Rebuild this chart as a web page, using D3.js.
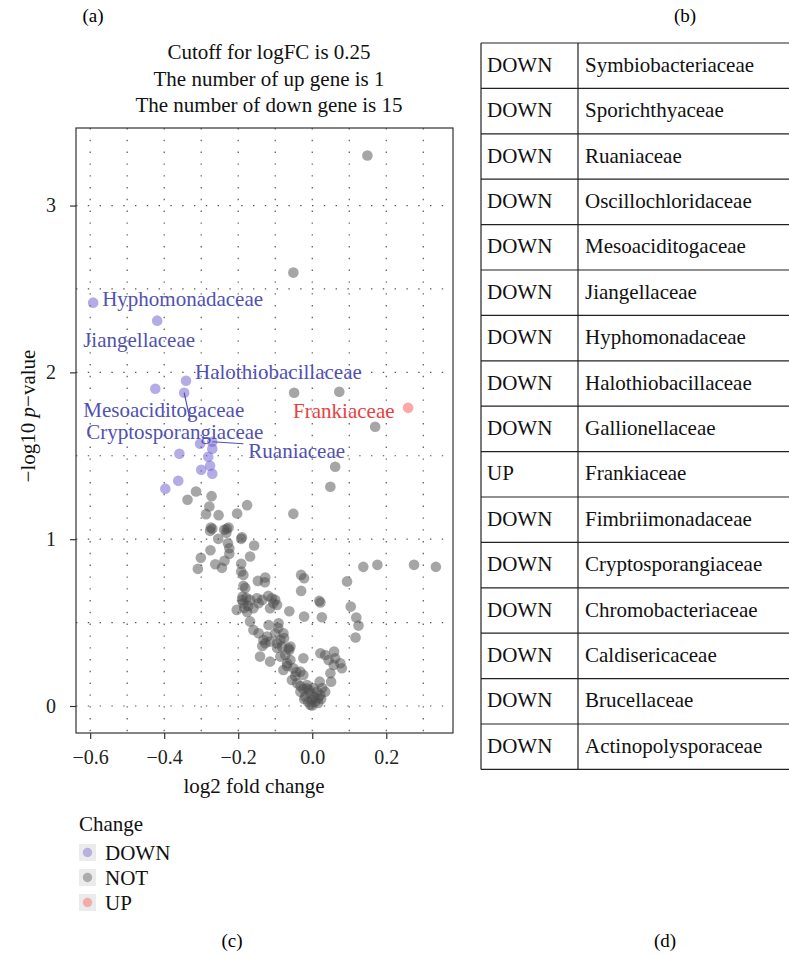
<!DOCTYPE html>
<html><head><meta charset="utf-8">
<script src="https://cdn.jsdelivr.net/npm/d3@7"></script>
<style>body{margin:0;background:#fff}svg{display:block}text{font-family:"Liberation Serif","Times New Roman",serif}</style>
</head><body><svg id="c" width="789" height="955"></svg>
<script>
// ---------------- data ----------------
const titleLines = ["Cutoff for logFC is 0.25", "The number of up gene is 1", "The number of down gene is 15"];
const changeLevels = ["DOWN", "NOT", "UP"];
const xTicks = [-0.6, -0.4, -0.2, 0.0, 0.2];
const yTicks = [0, 1, 2, 3];

// [log2 fold change, -log10 p-value]
const notPoints = [
[0.149,3.30],[-0.051,2.598],[-0.049,1.878],[0.073,1.884],[0.170,1.674],[0.062,1.434],[0.049,1.314],[-0.051,1.152],
[-0.314,1.286],[-0.337,1.236],[-0.272,1.258],[-0.278,1.196],[-0.287,1.150],[-0.253,1.144],[-0.176,1.204],[-0.203,1.154],
[-0.274,1.070],[-0.276,1.050],[-0.231,1.062],[-0.226,1.070],[-0.238,1.056],[-0.254,1.002],[-0.192,1.002],[-0.190,1.012],
[-0.228,0.976],[-0.224,0.946],[-0.224,0.912],[-0.157,0.962],[-0.275,0.934],[-0.301,0.888],[-0.309,0.822],[-0.262,0.850],
[-0.237,0.870],[-0.244,0.828],[-0.168,0.896],[-0.192,0.852],[-0.192,0.806],[-0.186,0.786],[-0.147,0.750],[-0.127,0.770],
[-0.128,0.742],[-0.030,0.786],[-0.022,0.766],[-0.030,0.690],[0.094,0.747],[0.138,0.834],[0.176,0.846],[0.275,0.846],
[0.334,0.834],[-0.186,0.720],[-0.188,0.656],[-0.190,0.636],[-0.186,0.616],[-0.204,0.576],[-0.176,0.564],[-0.149,0.646],
[-0.145,0.616],[-0.159,0.586],[-0.109,0.646],[-0.105,0.616],[-0.114,0.586],[-0.095,0.606],[-0.062,0.568],[-0.022,0.536],
[0.022,0.620],[0.019,0.630],[0.026,0.532],[0.104,0.596],[0.119,0.530],[0.125,0.482],[0.117,0.411],[-0.168,0.507],
[-0.159,0.456],[-0.145,0.436],[-0.118,0.486],[-0.091,0.496],[-0.100,0.436],[-0.078,0.436],[-0.132,0.396],[-0.114,0.386],
[-0.095,0.376],[-0.082,0.356],[-0.059,0.356],[-0.122,0.416],[-0.127,0.376],[-0.064,0.346],[-0.141,0.296],[-0.114,0.266],
[-0.086,0.296],[-0.059,0.276],[-0.068,0.256],[-0.078,0.216],[-0.051,0.226],[-0.024,0.286],[0.022,0.316],[0.035,0.306],
[0.059,0.326],[0.044,0.276],[0.062,0.286],[0.076,0.256],[0.080,0.226],[0.058,0.246],[0.049,0.196],[0.051,0.146],
[0.020,0.146],[-0.032,0.206],[-0.024,0.186],[-0.055,0.156],[-0.041,0.136],[-0.014,0.126],[0.004,0.106],[-0.032,0.086],
[-0.005,0.076],[0.035,0.086],[-0.019,0.056],[-0.001,0.036],[0.008,0.026],[-0.005,0.006],[0.022,0.066],[-0.014,0.106],
[0.013,0.086],[0.000,0.003],[0.016,0.048],[-0.011,0.024],[-0.024,0.102],[0.027,0.108],[-0.032,0.120],[-0.046,0.180],
[-0.062,0.336],[-0.095,0.348],[-0.135,0.360],[-0.181,0.708],[-0.178,0.648],[-0.173,0.600],[-0.135,0.636],[-0.119,0.660],
[-0.076,0.408],[-0.092,0.468],[-0.168,0.636],[-0.184,0.588],[-0.100,0.636],[-0.086,0.396],[-0.073,0.306],[0.005,0.054],
[-0.008,0.096],[0.016,0.018],[-0.022,0.042],[0.024,0.042],[-0.068,0.240],[-0.043,0.204],[-0.232,1.038],[-0.270,1.062]
];
const downPoints = [
[-0.592,2.418],[-0.419,2.310],[-0.424,1.902],[-0.341,1.950],[-0.346,1.878],[-0.303,1.572],[-0.270,1.584],[-0.270,1.542],
[-0.359,1.512],[-0.281,1.494],[-0.276,1.440],[-0.300,1.416],[-0.270,1.392],[-0.362,1.350],[-0.397,1.302]
];
const downLabels = ["Hyphomonadaceae","Jiangellaceae","Mesoaciditogaceae","Halothiobacillaceae","Cryptosporangiaceae",null,"Ruaniaceae",null,null,null,null,null,null,null,null];
const upPoints = [[0.259,1.788]];
const upLabels = ["Frankiaceae"];

const tableChange = ["DOWN","DOWN","DOWN","DOWN","DOWN","DOWN","DOWN","DOWN","DOWN","UP","DOWN","DOWN","DOWN","DOWN","DOWN","DOWN"];
const tableFamily = ["Symbiobacteriaceae","Sporichthyaceae","Ruaniaceae","Oscillochloridaceae","Mesoaciditogaceae","Jiangellaceae","Hyphomonadaceae","Halothiobacillaceae","Gallionellaceae","Frankiaceae","Fimbriimonadaceae","Cryptosporangiaceae","Chromobacteriaceae","Caldisericaceae","Brucellaceae","Actinopolysporaceae"];

// label placement (pixel offsets from the point, as a repel layout would give)
const labelLayout = {
  Hyphomonadaceae:[9,-4], Jiangellaceae:[-74,19], Halothiobacillaceae:[9,-9],
  Mesoaciditogaceae:[-72,21], Cryptosporangiaceae:[-98,39,6,28], Ruaniaceae:[36,9,31,2], Frankiaceae:[-115,3]
};

// ---------------- drawing ----------------
const svg = d3.select("#c");
const FS = 21;
const colors = {DOWN:"#6a5acd", NOT:"#4d4d4d", UP:"#ff4d4d"};
const labelColors = {DOWN:"#5151b3", UP:"#e8413e"};
const ptAlpha = 0.5;

const P = {l:76, r:453, t:128, b:733};
const all = notPoints.concat(downPoints, upPoints);
const xe = d3.extent(all, d=>d[0]), ye = d3.extent(all, d=>d[1]);
const xp = (xe[1]-xe[0])*0.05, yp = (ye[1]-ye[0])*0.05;
const x = d3.scaleLinear().domain([xe[0]-xp, xe[1]+xp]).range([P.l, P.r]);
const y = d3.scaleLinear().domain([ye[0]-yp, ye[1]+yp]).range([P.b, P.t]);

// panel labels
svg.append("text").attr("x",93).attr("y",15).attr("text-anchor","middle").attr("dominant-baseline","central").attr("font-size",FS-2).text("(a)");
svg.append("text").attr("x",685).attr("y",15).attr("text-anchor","middle").attr("dominant-baseline","central").attr("font-size",FS-2).text("(b)");
svg.append("text").attr("x",232).attr("y",940).attr("text-anchor","middle").attr("dominant-baseline","central").attr("font-size",FS-2).text("(c)");
svg.append("text").attr("x",665).attr("y",940).attr("text-anchor","middle").attr("dominant-baseline","central").attr("font-size",FS-2).text("(d)");

// title
svg.append("g").selectAll("text").data(titleLines).join("text")
  .attr("x",269).attr("y",(d,i)=>52+i*26.5).attr("text-anchor","middle").attr("dominant-baseline","central")
  .attr("font-size",FS).attr("fill","#111").text(d=>d);

// grid
const g = svg.append("g");
const xGrid = d3.range(-6, 4).map(v=>v/10);
const yGrid = d3.range(0, 7).map(v=>v/2);
g.selectAll("line.gx").data(xGrid).join("line").attr("class","gx")
  .attr("x1",d=>x(d)).attr("x2",d=>x(d)).attr("y1",P.t).attr("y2",P.b)
  .attr("stroke","#555").attr("stroke-width",1.2).attr("stroke-dasharray","1.4,10.4");
g.selectAll("line.gy").data(yGrid).join("line").attr("class","gy")
  .attr("y1",d=>y(d)).attr("y2",d=>y(d)).attr("x1",P.l).attr("x2",P.r)
  .attr("stroke","#555").attr("stroke-width",1.2).attr("stroke-dasharray","1.4,10.4");

// points
const pts = notPoints.map(d=>({x:d[0],y:d[1],c:"NOT"}))
  .concat(downPoints.map((d,i)=>({x:d[0],y:d[1],c:"DOWN",name:downLabels[i]})))
  .concat(upPoints.map((d,i)=>({x:d[0],y:d[1],c:"UP",name:upLabels[i]})));
svg.append("g").selectAll("circle").data(pts).join("circle")
  .attr("cx",d=>x(d.x)).attr("cy",d=>y(d.y)).attr("r",5.3)
  .attr("fill",d=>colors[d.c]).attr("fill-opacity",ptAlpha);

// labels
const lab = svg.append("g");
pts.filter(d=>d.name).forEach(d=>{
  const o = labelLayout[d.name], px = x(d.x), py = y(d.y);
  if (o.length > 2) {
    lab.append("line").attr("x1",px).attr("y1",py).attr("x2",px+o[2]).attr("y2",py+o[3])
      .attr("stroke",labelColors[d.c]).attr("stroke-width",1.2);
  }
  lab.append("text").attr("x",px+o[0]).attr("y",py+o[1]).attr("dominant-baseline","central")
    .attr("font-size",FS).attr("fill",labelColors[d.c]).text(d.name);
});

// border
svg.append("rect").attr("x",P.l).attr("y",P.t).attr("width",P.r-P.l).attr("height",P.b-P.t)
  .attr("fill","none").attr("stroke","#333").attr("stroke-width",1.2);

// axes
const xa = svg.append("g").attr("transform",`translate(0,${P.b})`)
  .call(d3.axisBottom(x).tickValues(xTicks).tickSize(6).tickPadding(8).tickFormat(d=>d3.format(".1f")(d).replace("-","\u2212")));
const ya = svg.append("g").attr("transform",`translate(${P.l},0)`)
  .call(d3.axisLeft(y).tickValues(yTicks).tickSize(6).tickPadding(14).tickFormat(d3.format("d")));
[xa, ya].forEach(a=>{
  a.select(".domain").remove();
  a.selectAll(".tick line").attr("stroke","#333").attr("stroke-width",1.2);
  a.selectAll(".tick text").attr("font-size",FS-1).attr("fill","#222").attr("font-family","Liberation Serif");
});
xa.selectAll(".tick text").attr("dy",null).attr("y",24).attr("dominant-baseline","central");

svg.append("text").attr("x",254).attr("y",786).attr("text-anchor","middle").attr("dominant-baseline","central")
  .attr("font-size",FS).attr("fill","#111").text("log2 fold change");
const yt = svg.append("text").attr("transform","translate(28,416) rotate(-90)").attr("text-anchor","middle")
  .attr("dominant-baseline","central").attr("font-size",FS).attr("fill","#111");
yt.append("tspan").text("\u2212log10 ");
yt.append("tspan").attr("font-style","italic").text("p");
yt.append("tspan").text("\u2212value");

// legend
const lg = svg.append("g");
lg.append("text").attr("x",79).attr("y",824).attr("dominant-baseline","central").attr("font-size",FS).attr("fill","#111").text("Change");
const keys = lg.selectAll("g.k").data(changeLevels).join("g").attr("class","k")
  .attr("transform",(d,i)=>`translate(79,${844+i*25})`);
keys.append("rect").attr("width",17).attr("height",17).attr("fill","#ebebeb");
keys.append("circle").attr("cx",8.5).attr("cy",8.5).attr("r",4.7).attr("fill",d=>colors[d]).attr("fill-opacity",0.4);
keys.append("text").attr("x",26).attr("y",8.5).attr("dominant-baseline","central").attr("font-size",FS).attr("fill","#111").text(d=>d);

// table
const T = {l:481, m:578, r:789, t:43, h:45.4};
const tb = svg.append("g");
const nRows = tableFamily.length;
tb.selectAll("line.h").data(d3.range(nRows+1)).join("line").attr("class","h")
  .attr("x1",T.l).attr("x2",T.r).attr("y1",i=>T.t+i*T.h).attr("y2",i=>T.t+i*T.h)
  .attr("stroke","#222").attr("stroke-width",1.2);
[T.l, T.m].forEach(vx=>tb.append("line").attr("x1",vx).attr("x2",vx).attr("y1",T.t).attr("y2",T.t+nRows*T.h)
  .attr("stroke","#222").attr("stroke-width",1.2));
tb.selectAll("text.c").data(tableChange).join("text").attr("class","c")
  .attr("x",T.l+6).attr("y",(d,i)=>T.t+(i+0.5)*T.h-1).attr("dominant-baseline","central")
  .attr("font-size",FS).attr("fill","#111").text(d=>d);
tb.selectAll("text.f").data(tableFamily).join("text").attr("class","f")
  .attr("x",T.m+7).attr("y",(d,i)=>T.t+(i+0.5)*T.h-1).attr("dominant-baseline","central")
  .attr("font-size",FS).attr("fill","#111").text(d=>d);
</script></body></html>
